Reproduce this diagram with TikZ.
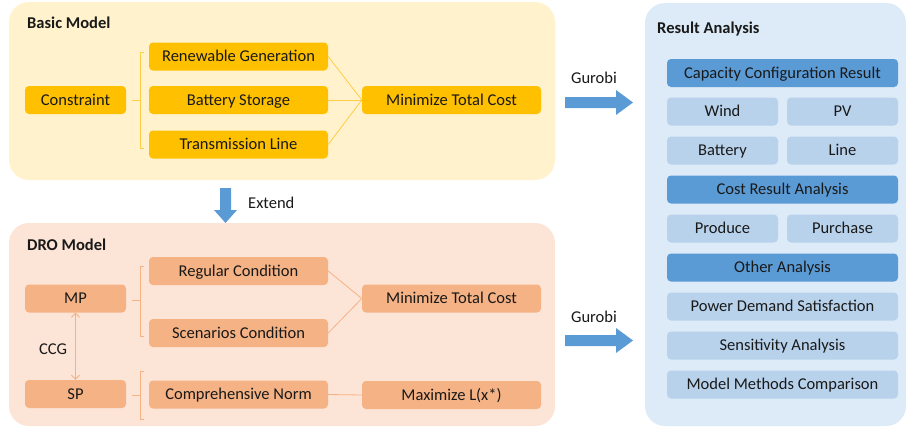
\documentclass[tikz,border=0pt]{standalone}
\usepackage{fontspec}
\setmainfont{Carlito}
\usetikzlibrary{arrows.meta}
\definecolor{ypanel}{RGB}{255,242,204}
\definecolor{ybox}{RGB}{255,192,0}
\definecolor{yline}{RGB}{255,204,70}
\definecolor{opanel}{RGB}{252,228,214}
\definecolor{obox}{RGB}{245,178,132}
\definecolor{bpanel}{RGB}{221,234,247}
\definecolor{bdark}{RGB}{91,155,213}
\definecolor{blight}{RGB}{184,210,236}
\definecolor{txt}{RGB}{25,25,25}
\tikzset{
  panel/.style={rounded corners=20pt, draw=none},
  bx/.style={rounded corners=4pt, draw=none, minimum height=28pt, inner sep=0pt, text height=12pt, text depth=1.4pt, font=\fontsize{16.5}{18}\selectfont, text=txt},
  ybx/.style={bx, fill=ybox},
  obx/.style={bx, fill=obox},
  dbx/.style={bx, fill=bdark, minimum height=28pt},
  lbx/.style={bx, fill=blight, minimum height=28pt},
  ttl/.style={anchor=west, font=\bfseries\fontsize{16.5}{18}\selectfont, text=txt, inner sep=0pt, text height=12pt, text depth=1.4pt},
  lbl/.style={font=\fontsize{16.5}{18}\selectfont, text=txt, inner sep=0pt, text height=12pt, text depth=1.4pt},
  yln/.style={draw=yline, line width=0.8pt},
  oln/.style={draw=obox, line width=0.8pt},
  blk/.style={fill=bdark, draw=none}
}
\begin{document}
\begin{tikzpicture}[x=1pt,y=-1pt]
\useasboundingbox (0,0) rectangle (906,431);
% panels
\fill[panel, fill=ypanel] (9,2) rectangle (555,180);
\fill[panel, fill=opanel] (9,223) rectangle (555,426);
\fill[panel, fill=bpanel] (645,3) rectangle (906,426);
% titles
\node[ttl] (t1) at (27,23) {Basic Model};
\node[ttl] (t2) at (27,245) {DRO Model};
\node[ttl] (t3) at (657,28) {Result Analysis};
% Basic model
\node[ybx, minimum width=101pt] (con) at (75.5,100) {Constraint};
\node[ybx, minimum width=179pt] (ren) at (238.5,56.5) {Renewable Generation};
\node[ybx, minimum width=179pt] (bat) at (238.5,100) {Battery Storage};
\node[ybx, minimum width=179pt] (tra) at (238.5,144.5) {Transmission Line};
\node[ybx, minimum width=179pt] (min1) at (451.5,100) {Minimize Total Cost};
\coordinate (b1) at (140,100);
\draw[yln] (con.east) ++(6,0) -- (b1);
\draw[yln] (144,52) -- (140,52) -- (140,148) -- (144,148);
\draw[yln] (ren.east) -- (min1.west);
\draw[yln] (bat.east) -- (min1.west);
\draw[yln] (tra.east) -- (min1.west);
% Extend arrow
\fill[blk] (220,188) -- (231,188) -- (231,210) -- (237,210) -- (225.5,223) -- (214,210) -- (220,210) -- cycle;
\node[lbl, anchor=west] (ext) at (248,203) {Extend};
% DRO model
\node[obx, minimum width=101pt] (mp) at (75.5,298.5) {MP};
\node[obx, minimum width=101pt] (sp) at (75.5,394) {SP};
\node[obx, minimum width=179pt] (reg) at (238.5,271) {Regular Condition};
\node[obx, minimum width=179pt] (sce) at (238.5,333) {Scenarios Condition};
\node[obx, minimum width=179pt] (min2) at (451.5,298.5) {Minimize Total Cost};
\node[obx, minimum width=179pt] (comp) at (238.5,394.5) {Comprehensive Norm};
\node[obx, minimum width=179pt] (max) at (451.5,395) {Maximize L(x*)};
\draw[oln] (mp.east) ++(6,1.5) -- (140,300);
\draw[oln] (144,266) -- (140,266) -- (140,336) -- (144,336);
\draw[oln] (sp.east) ++(6,1) -- (140,395);
\draw[oln] (144,371) -- (140,371) -- (140,419) -- (144,419);
\draw[oln] (reg.east) -- (min2.west);
\draw[oln] (sce.east) -- (min2.west);
\draw[oln] (comp.east) -- (max.west);
\draw[oln, {Straight Barb[length=4pt,width=8pt]}-{Straight Barb[length=4pt,width=8pt]}] (mp.south) -- (sp.north);
\node[lbl] (ccg) at (53,349) {CCG};
% Gurobi arrows
\fill[blk] (565,97) -- (616,97) -- (616,90) -- (633,102.5) -- (616,115) -- (616,108) -- (565,108) -- cycle;
\node[lbl] (g1) at (594,78) {Gurobi};
\fill[blk] (565,335) -- (616,335) -- (616,328) -- (633,340.5) -- (616,353) -- (616,346) -- (565,346) -- cycle;
\node[lbl] (g2) at (594,317) {Gurobi};
% Result analysis
\node[dbx, minimum width=231pt] (cap) at (782.5,73) {Capacity Configuration Result};
\node[lbx, minimum width=111pt] (wind) at (722.5,111.5) {Wind};
\node[lbx, minimum width=111pt] (pv) at (842.5,111.5) {PV};
\node[lbx, minimum width=111pt] (batt) at (722.5,150.5) {Battery};
\node[lbx, minimum width=111pt] (line) at (842.5,150.5) {Line};
\node[dbx, minimum width=231pt] (cost) at (782.5,189.5) {Cost Result Analysis};
\node[lbx, minimum width=111pt] (prod) at (722.5,228.5) {Produce};
\node[lbx, minimum width=111pt] (purc) at (842.5,228.5) {Purchase};
\node[dbx, minimum width=231pt] (oth) at (782.5,267.5) {Other Analysis};
\node[lbx, minimum width=231pt] (pds) at (782.5,306.5) {Power Demand Satisfaction};
\node[lbx, minimum width=231pt] (sen) at (782.5,345.5) {Sensitivity Analysis};
\node[lbx, minimum width=231pt] (mmc) at (782.5,384.5) {Model Methods Comparison};
\end{tikzpicture}
\end{document}
